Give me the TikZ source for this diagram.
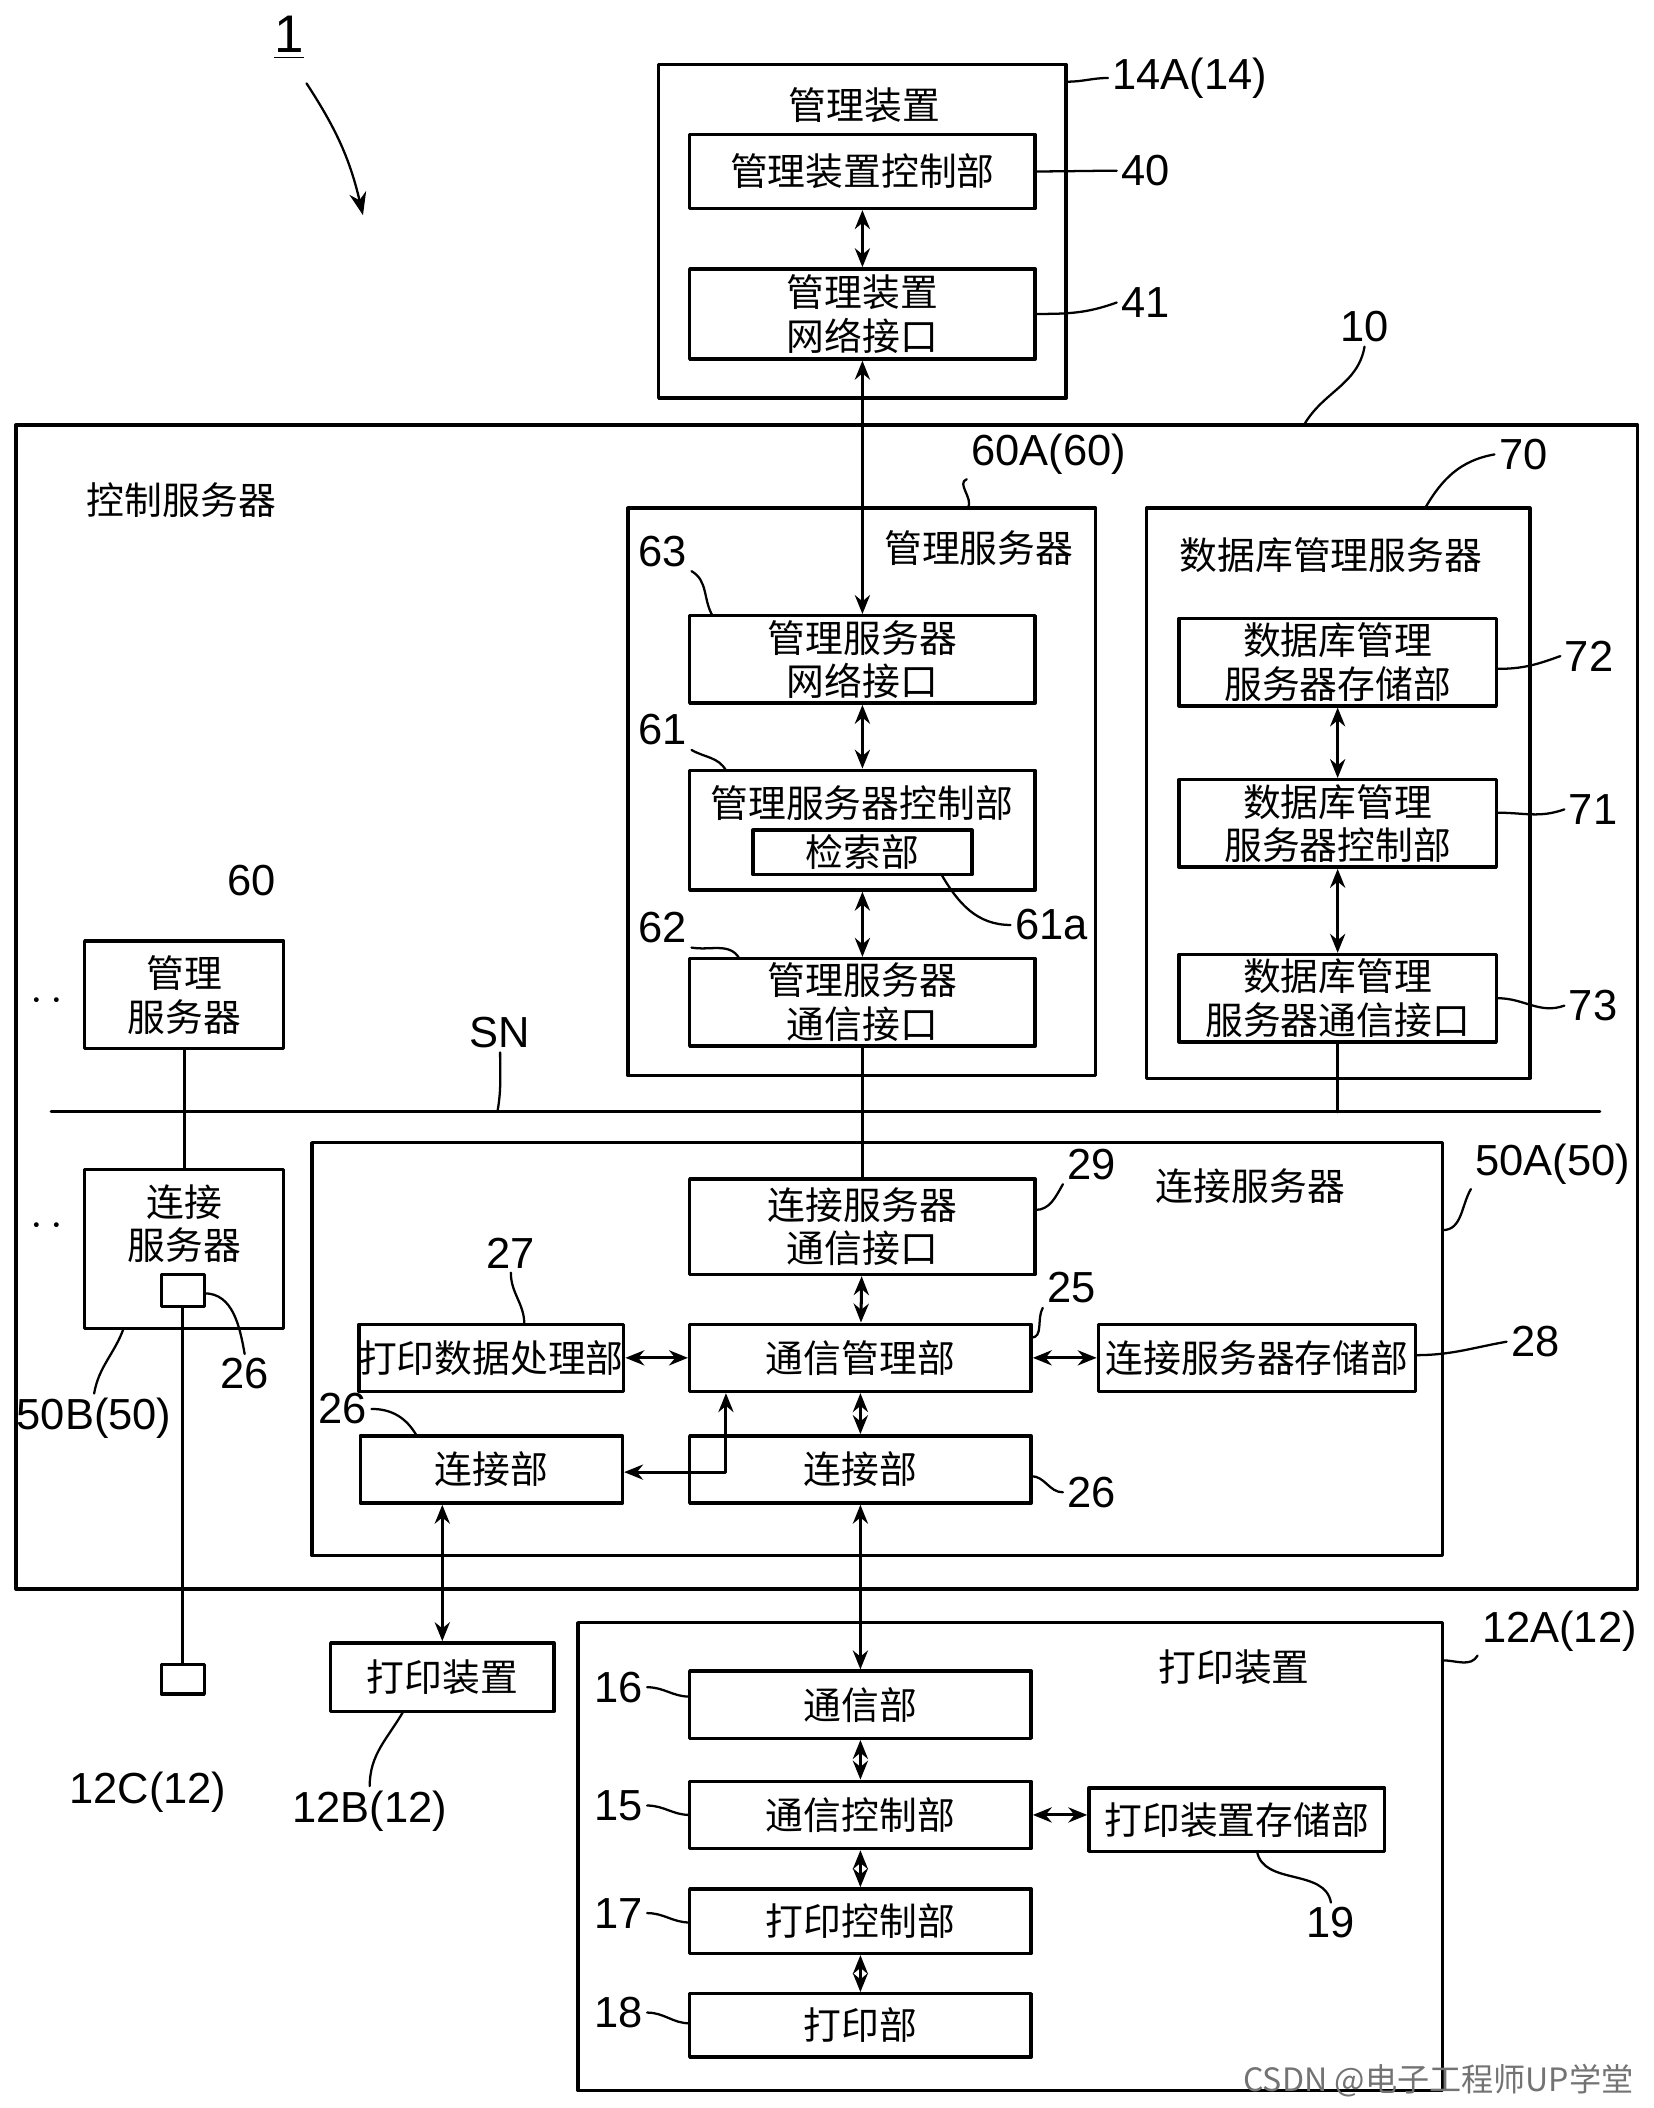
\documentclass[tikz,border=0pt]{standalone}
\usepackage{fontspec}
\setmainfont{Noto Sans CJK SC}
\newfontfamily\numfont{Liberation Sans}
\usetikzlibrary{arrows.meta, fit, calc}
\tikzset{
  box/.style={draw, line width=0.9pt, inner sep=0pt, align=center, font=\fontsize{10}{11.5}\selectfont},
  sz/.style 2 args={minimum width=#1*0.0125cm, minimum height=#2*0.0125cm},
  frame/.style={draw, line width=0.9pt, inner sep=0pt},
  lbl/.style={font=\numfont\fontsize{11.5}{13}\selectfont, inner sep=1pt},
  ttl/.style={font=\fontsize{10}{11.5}\selectfont, inner sep=1pt, align=center},
  lead/.style={line width=0.6pt},
  link/.style={line width=0.8pt, {Stealth[length=5pt,width=4pt]}-{Stealth[length=5pt,width=4pt]}},
  wire/.style={line width=0.8pt}
}
\begin{document}
\begin{tikzpicture}[x=0.0125cm, y=-0.0125cm, line cap=round, line join=round]
\useasboundingbox (0,0) rectangle (1230,1568);

% ==== reference 1 ====
\node[lbl, font=\numfont\fontsize{14}{16}\selectfont] (one) at (215,28) {\underline{1}};
\coordinate (oneEnd) at (270,160);
\draw[lead, -{Stealth[length=6pt]}] (228,62) to[bend left=10] (oneEnd);

% ==== management device 14A ====
\node[frame, fit={(490,48)(793,296)}] (dev14) {};
\node[ttl] (dev14t) at (643,78) {管理装置};
\node[box, sz={257}{55}] (c40) at (641.5,127.5) {管理装置控制部};
\node[box, sz={257}{67}] (c41) at (641.5,233.5) {管理装置\\网络接口};
\node[lbl] (l14) at (885,58) {14A(14)};
\node[lbl] (l40) at (852,127) {40};
\node[lbl] (l41) at (852,225) {41};
\draw[lead] (dev14.north east) ++(0,14) to[out=0,in=180] (l14.west);
\draw[lead] (c40.east) to[out=0,in=180] (l40.west);
\draw[lead] (c41.east) to[out=0,in=200] (l41.west);
\draw[link] (c40) -- (c41);

% ==== control server 10 ====
\node[frame, fit={(12,316)(1218,1182)}] (srv10) {};
\node[lbl] (l10) at (1015,243) {10};
\draw[lead] (970,316) to[out=60,in=260] (l10.south);
\node[ttl] (srv10t) at (135,372) {控制服务器};

% ---- management server 60A ----
\node[frame, fit={(467,378)(815,800)}] (ms60) {};
\node[ttl] (ms60t) at (728,408) {管理服务器};
\node[lbl] (l60A) at (780,338) {60A(60)};
\draw[lead] (720,378) to[out=60,in=200] (l60A.south west);
\node[box, sz={257}{65}] (c63) at (641.5,490.5) {管理服务器\\网络接口};
\node[box, sz={257}{89}] (c61) at (641.5,617.5) {};
\node[ttl] (c61t) at (641,597) {管理服务器控制部};
\node[box, sz={163}{33}] (c61a) at (641.5,634) {检索部};
\node[box, sz={257}{65}] (c62) at (641.5,745.5) {管理服务器\\通信接口};
\node[lbl] (l63) at (493,410) {63};
\node[lbl] (l61) at (493,543) {61};
\node[lbl] (l62) at (493,690) {62};
\node[lbl] (l61a) at (782,688) {61a};
\draw[lead] (l63.south east) to[out=-30,in=120] (530,458);
\draw[lead] (l61.south east) to[out=-30,in=120] (540,573);
\draw[lead] (l62.south east) to[out=-10,in=120] (550,713);
\draw[lead] (700,650) to[out=-60,in=180] (l61a.west);
\draw[link] (c41.south) -- (c63.north);
\draw[link] (c63) -- (c61);
\draw[link] (c61) -- (c62);

% ---- database management server 70 ----
\node[frame, fit={(853,378)(1138,802)}] (db70) {};
\node[ttl] (db70t) at (990,413) {数据库管理服务器};
\node[lbl] (l70) at (1133,338) {70};
\draw[lead] (1060,378) to[out=60,in=190] (l70.west);
\node[box, sz={236}{65}] (c72) at (995,492.5) {数据库管理\\服务器存储部};
\node[box, sz={236}{65}] (c71) at (995,612.5) {数据库管理\\服务器控制部};
\node[box, sz={236}{65}] (c73) at (995,742.5) {数据库管理\\服务器通信接口};
\node[lbl] (l72) at (1182,488) {72};
\node[lbl] (l71) at (1185,602) {71};
\node[lbl] (l73) at (1185,748) {73};
\draw[lead] (c72.east) ++(0,5) to[out=0,in=200] (l72.west);
\draw[lead] (c71.east) ++(0,-8) to[out=0,in=200] (l71.west);
\draw[lead] (c73.east) to[out=0,in=200] (l73.west);
\draw[link] (c72) -- (c71);
\draw[link] (c71) -- (c73);

% ---- SN bus ----
\coordinate (snL) at (38,827);
\coordinate (snR) at (1190,827);
\draw[wire] (snL) -- (snR);
\node[lbl] (lSN) at (372,768) {SN};
\draw[lead] (370,827) to[out=80,in=270] (lSN.south);
\draw[wire] (c73.south) -- (c73.south |- snR);

% ---- other servers ----
\node[box, sz={148}{80}] (ms60b) at (137,740) {管理\\服务器};
\node[lbl] (l60) at (187,655) {60};
\node[lbl] (dots1) at (35,745) {$\cdot\,\cdot$};
\node[box, sz={148}{118}] (cs50B) at (137,929) {};
\node[ttl] (cs50Bt) at (137,910) {连接\\服务器};
\node[box, sz={32}{24}] (p26b) at (136,960) {};
\node[lbl] (l26b) at (182,1022) {26};
\node[lbl] (l50B) at (70,1055) {50B(50)};
\node[lbl] (dots2) at (35,912) {$\cdot\,\cdot$};
\draw[lead] (152,962) to[out=0,in=100] (l26b.north);
\draw[lead] (92,988) to[out=250,in=80] (l50B.north);
\draw[wire] (ms60b.south) -- (cs50B.north);
\node[box, sz={32}{22}] (p12C) at (136,1249) {};
\node[lbl] (l12C) at (110,1333) {12C(12)};
\draw[wire] (p26b.south) -- (p12C.north);

% ---- connection server 50A ----
\node[frame, fit={(232,850)(1073,1157)}] (cs50A) {};
\node[ttl] (cs50At) at (930,882) {连接服务器};
\node[lbl] (l50A) at (1155,866) {50A(50)};
\draw[lead] (1073,915) to[out=0,in=240] (l50A.south west);
\node[box, sz={257}{71}] (c29) at (641.5,912.5) {连接服务器\\通信接口};
\node[box, sz={254}{50}] (c25) at (640,1010) {通信管理部};
\node[box, sz={195}{50}] (c27) at (365.5,1010) {打印数据处理部};
\node[box, sz={236}{50}] (c28) at (935,1010) {连接服务器存储部};
\node[box, sz={195}{50}] (c26l) at (365.5,1093) {连接部};
\node[box, sz={254}{50}] (c26r) at (640,1093) {连接部};
\node[lbl] (l29) at (812,866) {29};
\node[lbl] (l25) at (797,958) {25};
\node[lbl] (l27) at (380,932) {27};
\node[lbl] (l28) at (1142,998) {28};
\node[lbl] (l26l) at (255,1048) {26};
\node[lbl] (l26r) at (812,1110) {26};
\draw[lead] (770,900) to[out=0,in=240] (l29.south west);
\draw[lead] (767,995) to[out=0,in=240] (l25.south west);
\draw[lead] (390,985) to[out=90,in=270] (l27.south);
\draw[lead] (1053,1008) to[out=0,in=190] (l28.west);
\draw[lead] (l26l.east) to[out=0,in=120] (310,1068);
\draw[lead] (767,1098) to[out=0,in=180] (l26r.west);
\draw[wire] (c62.south) -- (c29.north);
\draw[link] (c29) -- (c25);
\draw[link] (c27) -- (c25);
\draw[link] (c25) -- (c28);
\draw[link] (c25) -- (c26r);
\coordinate (bend26) at (540,1095);
\draw[link] (c26l.east |- bend26) -- (bend26) -- (bend26 |- c25.south);

% ---- print device 12B ----
\node[box, sz={166}{51}] (pd12B) at (329,1247.5) {打印装置};
\node[lbl] (l12B) at (275,1347) {12B(12)};
\draw[lead] (300,1273) to[out=240,in=90] (l12B.north);
\draw[link] (c26l.south -| pd12B.north) -- (pd12B.north);

% ---- print device 12A ----
\node[frame, fit={(430,1207)(1073,1555)}] (pd12A) {};
\node[ttl] (pd12At) at (918,1240) {打印装置};
\node[lbl] (l12A) at (1160,1213) {12A(12)};
\draw[lead] (1073,1235) to[out=0,in=240] (l12A.south west);
\node[box, sz={254}{50}] (c16) at (640,1268) {通信部};
\node[box, sz={254}{50}] (c15) at (640,1350) {通信控制部};
\node[box, sz={220}{47}] (c19) at (920,1353.5) {打印装置存储部};
\node[box, sz={254}{48}] (c17) at (640,1429) {打印控制部};
\node[box, sz={254}{47}] (c18) at (640,1506.5) {打印部};
\node[lbl] (l16) at (460,1255) {16};
\node[lbl] (l15) at (460,1343) {15};
\node[lbl] (l17) at (460,1423) {17};
\node[lbl] (l18) at (460,1497) {18};
\node[lbl] (l19) at (990,1430) {19};
\draw[lead] (l16.east) to[out=0,in=180] (513,1262);
\draw[lead] (l15.east) to[out=0,in=180] (513,1350);
\draw[lead] (l17.east) to[out=0,in=180] (513,1430);
\draw[lead] (l18.east) to[out=0,in=180] (513,1505);
\draw[lead] (935,1377) to[out=280,in=100] (l19.north);
\draw[link] (c26r.south) -- (c16.north);
\draw[link] (c16) -- (c15);
\draw[link] (c15) -- (c19.west |- c15.east);
\draw[link] (c15) -- (c17);
\draw[link] (c17) -- (c18);

% watermark
\node[font=\fontsize{8.5}{10}\selectfont, text=black!55, anchor=east] (wm) at (1225,1548) {CSDN @电子工程师UP学堂};
\end{tikzpicture}
\end{document}
